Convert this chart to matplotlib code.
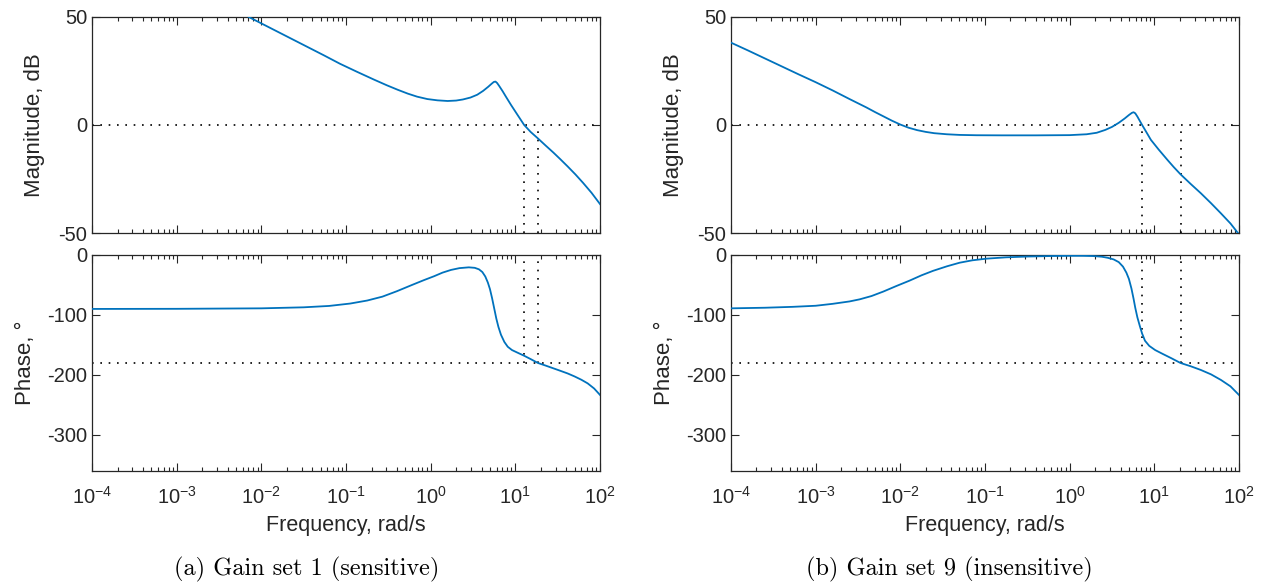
import numpy as np
import matplotlib
matplotlib.use("Agg")
import matplotlib.pyplot as plt
from matplotlib.ticker import LogLocator, FixedLocator, NullFormatter

plt.rcParams['font.family'] = ['Liberation Sans', 'DejaVu Sans']
plt.rcParams['axes.unicode_minus'] = False

# gain set 1 (sensitive): log10 of frequency and response
mag_a_logw = [-2.15, -2.0, -1.85, -1.65, -1.46, -1.26, -1.07, -0.87, -0.67, -0.52,
              -0.39, -0.27, -0.16, -0.04, 0.08, 0.20, 0.30, 0.38, 0.47, 0.55,
              0.62, 0.68, 0.72, 0.745, 0.765, 0.785, 0.81, 0.85, 0.89, 0.95,
              1.02, 1.104, 1.18, 1.266, 1.36, 1.45, 1.53, 1.618, 1.71, 1.80,
              1.90, 2.0]
mag_a_db = [50.0, 47.0, 44.0, 40.0, 36.2, 32.2, 28.3, 24.6, 21.0, 18.4,
            16.3, 14.5, 13.1, 12.0, 11.4, 11.1, 11.3, 11.8, 12.7, 14.0,
            15.8, 17.7, 19.1, 19.9, 20.1, 19.4, 18.0, 15.6, 13.0, 9.2,
            5.0, 0.0, -3.2, -6.2, -9.6, -12.8, -15.8, -19.2, -22.9, -26.8,
            -31.4, -36.6]
phase_a_logw = [-4.0, -3.0, -2.0, -1.5, -1.2, -0.95, -0.75, -0.57, -0.40, -0.22,
                -0.08, 0.04, 0.14, 0.24, 0.34, 0.45, 0.52, 0.57, 0.61, 0.645,
                0.675, 0.70, 0.725, 0.75, 0.775, 0.80, 0.83, 0.87, 0.91, 0.96,
                1.02, 1.104, 1.18, 1.266, 1.36, 1.45, 1.53, 1.618, 1.70, 1.78,
                1.854, 1.93, 2.0]
phase_a_deg = [-90.0, -89.8, -89.0, -87.3, -85.0, -81.0, -76.0, -69.5, -60.5, -50.0,
               -42.0, -35.5, -29.5, -25.0, -22.0, -20.7, -21.5, -24.0, -28.5, -36.0,
               -46.0, -57.0, -72.0, -89.0, -106.0, -120.0, -133.0, -145.0, -153.0, -158.5,
               -162.5, -168.0, -173.5, -180.0, -184.5, -189.0, -193.0, -197.5, -202.5, -208.0,
               -214.0, -222.5, -233.3]
cross_a = [12.7, 18.5]  # gain and phase crossover, rad/s

# gain set 9 (insensitive)
mag_b_logw = [-4.0, -3.8, -3.6, -3.4, -3.2, -3.0, -2.8, -2.6, -2.4, -2.3,
              -2.2, -2.1, -2.0, -1.9, -1.8, -1.7, -1.6, -1.45, -1.3, -1.1,
              -0.8, -0.4, 0.0, 0.2, 0.32, 0.42, 0.50, 0.58, 0.65, 0.70,
              0.735, 0.755, 0.775, 0.80, 0.83, 0.856, 0.90, 0.96, 1.05, 1.156,
              1.23, 1.309, 1.43, 1.55, 1.67, 1.787, 1.90, 2.0]
mag_b_db = [38.1, 34.5, 30.8, 27.1, 23.4, 19.8, 16.0, 12.0, 8.1, 6.0,
            4.0, 2.0, 0.2, -1.3, -2.4, -3.2, -3.8, -4.3, -4.6, -4.75,
            -4.8, -4.8, -4.7, -4.3, -3.6, -2.3, -0.9, 1.0, 3.0, 4.6,
            5.6, 5.9, 5.4, 3.9, 1.8, 0.0, -2.9, -6.9, -11.3, -16.2,
            -19.5, -22.8, -27.3, -31.6, -36.2, -40.9, -45.6, -50.6]
phase_b_logw = [-4.0, -3.6, -3.27, -3.0, -2.8, -2.6, -2.48, -2.34, -2.2, -2.05,
                -1.89, -1.75, -1.613, -1.45, -1.3, -1.15, -0.98, -0.75, -0.5, -0.2,
                0.0, 0.15, 0.28, 0.38, 0.45, 0.52, 0.58, 0.63, 0.67, 0.70,
                0.73, 0.755, 0.775, 0.80, 0.83, 0.856, 0.89, 0.94, 1.01, 1.10,
                1.20, 1.309, 1.43, 1.55, 1.67, 1.787, 1.90, 2.0]
phase_b_deg = [-89.0, -88.0, -86.5, -84.7, -81.5, -77.5, -74.0, -68.5, -61.0, -52.0,
               -42.8, -34.0, -26.5, -19.0, -13.0, -9.0, -6.2, -4.0, -2.7, -1.8,
               -1.5, -1.5, -1.9, -3.0, -4.8, -7.5, -12.0, -19.5, -29.5, -40.0,
               -56.0, -73.0, -88.0, -104.0, -119.0, -131.0, -143.0, -151.5, -158.5, -165.0,
               -172.0, -180.0, -185.5, -191.7, -199.0, -208.3, -219.0, -233.3]
cross_b = [7.2, 20.4]

mag_ticks = [-50, 0, 50]
phase_ticks = [-300, -200, -100, 0]
captions = ['(a) Gain set 1 (sensitive)', '(b) Gain set 9 (insensitive)']

LINE = '#0072BD'
AX = '#262626'
DOTS = (0, (1, 4))
W = 0.4006


def style_axes(ax):
    ax.set_xscale('log')
    ax.set_xlim(1e-4, 1e2)
    ax.xaxis.set_major_locator(LogLocator(base=10, numticks=10))
    ax.xaxis.set_minor_locator(LogLocator(base=10, subs=np.arange(2, 10), numticks=10))
    ax.xaxis.set_minor_formatter(NullFormatter())
    ax.tick_params(which='both', direction='in', top=True, right=True,
                   color=AX, labelcolor=AX, labelsize=14.5, width=0.8)
    ax.tick_params(which='major', length=6)
    ax.tick_params(which='minor', length=3)
    ax.tick_params(axis='x', pad=11)
    for s in ax.spines.values():
        s.set_color(AX)
        s.set_linewidth(0.9)


def draw_column(left, mag_logw, mag_db, ph_logw, ph_deg, cross, caption, cap_x):
    ax_m = fig.add_axes([left, 0.601, W, 0.370])
    ax_p = fig.add_axes([left, 0.1935, W, 0.370])

    ax_m.plot(10.0 ** np.array(mag_logw), mag_db, color=LINE, lw=1.3, zorder=3)
    ax_m.axhline(0, color='k', ls=DOTS, lw=1.2)
    ax_m.vlines(cross, -50, 0, colors='k', linestyles=DOTS, lw=1.2)
    ax_m.set_ylim(-50, 50)
    ax_m.yaxis.set_major_locator(FixedLocator(mag_ticks))
    ax_m.set_ylabel('Magnitude, dB', fontsize=16, color=AX)
    ax_m.yaxis.set_label_coords(-0.092, 0.5)
    style_axes(ax_m)
    ax_m.tick_params(labelbottom=False)

    ax_p.plot(10.0 ** np.array(ph_logw), ph_deg, color=LINE, lw=1.3, zorder=3)
    ax_p.axhline(-180, color='k', ls=DOTS, lw=1.2)
    ax_p.vlines(cross, -180, 0, colors='k', linestyles=DOTS, lw=1.2)
    ax_p.set_ylim(-360, 0)
    ax_p.yaxis.set_major_locator(FixedLocator(phase_ticks))
    ax_p.set_ylabel('Phase, \u00b0', fontsize=16, color=AX)
    ax_p.yaxis.set_label_coords(-0.110, 0.5)
    ax_p.set_xlabel('Frequency, rad/s', fontsize=15.5, color=AX, labelpad=5)
    style_axes(ax_p)

    fig.text(cap_x, 0.025, caption, ha='center', va='center',
             fontsize=17.5, family='cmr10')


fig = plt.figure(figsize=(12.68, 5.84), dpi=100)
draw_column(0.0726, mag_a_logw, mag_a_db, phase_a_logw, phase_a_deg, cross_a,
            captions[0], 0.242)
draw_column(0.5765, mag_b_logw, mag_b_db, phase_b_logw, phase_b_deg, cross_b,
            captions[1], 0.749)

fig.savefig('out.png', dpi=100)
